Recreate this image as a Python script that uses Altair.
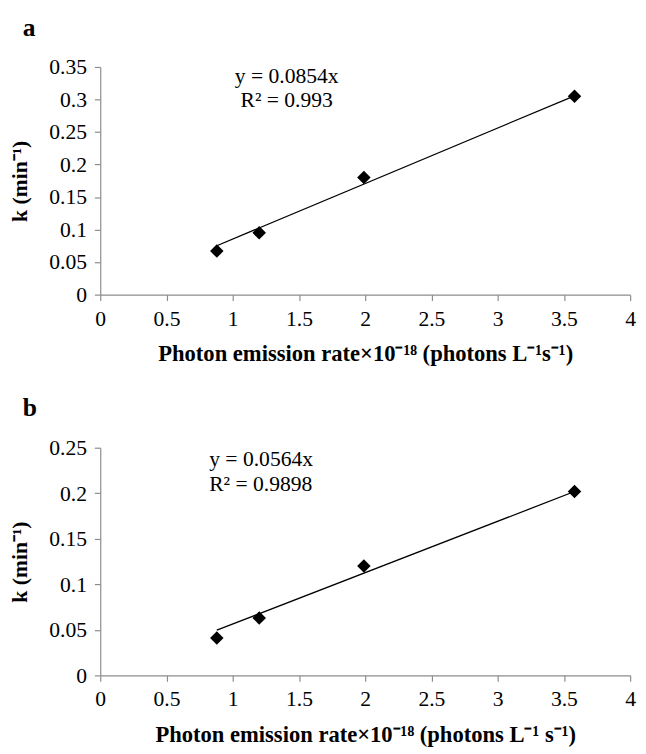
import altair as alt
import pandas as pd

# ---- data ----
x_vals = [0.88, 1.2, 1.99, 3.58]
k_a = [0.067, 0.095, 0.180, 0.305]
k_b = [0.041, 0.063, 0.120, 0.202]

trend_x = [0.88, 3.58]
trend_a = [0.0752, 0.3057]
trend_b = [0.0496, 0.2019]

x_ticks = [0, 0.5, 1, 1.5, 2, 2.5, 3, 3.5, 4]
y_ticks_a = [0, 0.05, 0.1, 0.15, 0.2, 0.25, 0.3, 0.35]
y_ticks_b = [0, 0.05, 0.1, 0.15, 0.2, 0.25]

eq_a = ["y = 0.0854x", "R² = 0.993"]
eq_b = ["y = 0.0564x", "R² = 0.9898"]

x_title_a = "Photon emission rate×10⁻¹⁸ (photons L⁻¹s⁻¹)"
x_title_b = "Photon emission rate×10⁻¹⁸ (photons L⁻¹ s⁻¹)"
y_title = "k (min⁻¹)"

FONT = "Liberation Serif"
W, H = 540, 232
AXIS_GREY = "#8c8c8c"


def panel(label, kvals, tvals, ymax, yticks, xtitle, eq, eq_align, eq_x, eq_y):
    pts = pd.DataFrame({"x": x_vals, "k": kvals})
    tr = pd.DataFrame({"x": trend_x, "k": tvals})
    xs = alt.Scale(domain=[0, 4], nice=False, zero=True)
    ys = alt.Scale(domain=[0, ymax], nice=False, zero=True)
    xaxis = alt.Axis(values=x_ticks, format=".1~f", title=xtitle, grid=False,
                     labelPadding=8, titlePadding=14, labelOverlap=False,
                     labelFlush=False, titleFontSize=23)
    yaxis = alt.Axis(values=yticks, format=".2~f", title=y_title, grid=False,
                     labelPadding=8, titlePadding=18, labelOverlap=False)
    line = alt.Chart(tr).mark_line(color="black", strokeWidth=1.3).encode(
        x=alt.X("x:Q", scale=xs, axis=xaxis),
        y=alt.Y("k:Q", scale=ys, axis=yaxis),
    )
    points = alt.Chart(pts).mark_point(shape="diamond", filled=True, color="black",
                                       opacity=1, size=190).encode(
        x=alt.X("x:Q", scale=xs, axis=xaxis),
        y=alt.Y("k:Q", scale=ys, axis=yaxis),
    )
    texts = []
    for i, t in enumerate(eq):
        texts.append(
            alt.Chart(pd.DataFrame({"t": [t]})).mark_text(
                font=FONT, fontSize=22, align=eq_align, baseline="alphabetic",
                color="black"
            ).encode(x=alt.value(eq_x), y=alt.value(eq_y[i]), text="t:N")
        )
    return alt.layer(line, points, *texts).properties(
        width=W, height=H,
        title=alt.TitleParams(text=label, anchor="start", frame="group",
                              fontSize=26, fontWeight="bold", font=FONT,
                              dx=-79, offset=16, color="black"),
    )


a = panel("a", k_a, trend_a, 0.35, y_ticks_a, x_title_a, eq_a, "center", 190,
          [16.5, 41])
b = panel("b", k_b, trend_b, 0.25, y_ticks_b, x_title_b, eq_b, "left", 111,
          [19, 44])

chart = alt.vconcat(a, b, spacing=31).properties(
    padding={"left": 0, "top": 0, "right": 2, "bottom": 0},
    background="white",
).configure_view(stroke=None).configure_axis(
    labelFont=FONT, labelFontSize=22, labelColor="black",
    titleFont=FONT, titleFontSize=22, titleFontWeight="bold", titleColor="black",
    domainColor=AXIS_GREY, tickColor=AXIS_GREY, tickSize=6, domainWidth=1.2,
    tickWidth=1.2,
)

chart.save("out.html", embed_options={"renderer": "svg", "actions": False})
